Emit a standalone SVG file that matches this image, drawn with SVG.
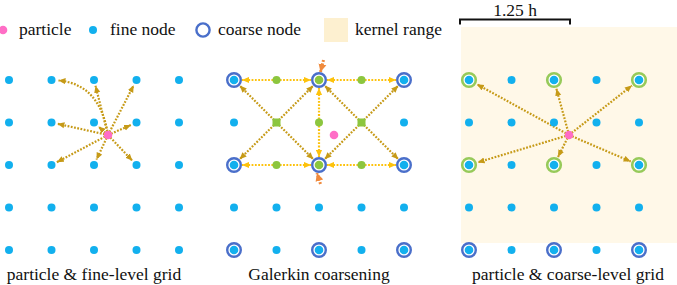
<svg xmlns="http://www.w3.org/2000/svg" width="677" height="285" viewBox="0 0 677 285">
<style>
text{font-family:"Liberation Serif","DejaVu Serif",serif;font-size:17.5px;fill:#111}
.f{fill:#12b0ee}
.g{fill:#8cc63f}
.p{fill:#ff6ec6}
.cr{fill:#fff;stroke:#4a6fca;stroke-width:2.4}
.gr{fill:#fff;stroke:#97ca5a;stroke-width:2.6}
.a{fill:none;stroke:#c69a17;stroke-width:2.2;stroke-dasharray:1.8 1.5;marker-end:url(#ag)}
.y{fill:none;stroke:#fdc20c;stroke-width:2.2;stroke-dasharray:1.8 1.5;marker-end:url(#ay)}
.o{fill:none;stroke:#f08a3c;stroke-width:3;stroke-dasharray:2 1.5;marker-end:url(#ao)}
</style>
<defs>
<marker id="ag" viewBox="0 0 8 8" refX="8" refY="4" markerWidth="7" markerHeight="7" markerUnits="userSpaceOnUse" orient="auto"><path d="M0,0.5L8,4L0,7.5z" fill="#c69a17"/></marker>
<marker id="ay" viewBox="0 0 8 8" refX="8" refY="4" markerWidth="7" markerHeight="7" markerUnits="userSpaceOnUse" orient="auto"><path d="M0,0.5L8,4L0,7.5z" fill="#fdc20c"/></marker>
<marker id="ao" viewBox="0 0 8 8" refX="8" refY="4" markerWidth="8" markerHeight="9" markerUnits="userSpaceOnUse" orient="auto"><path d="M0,0L8,4L0,8z" fill="#f08a3c"/></marker>
</defs>

<rect id="kernel-range" x="461" y="27" width="216" height="216" fill="#fff8e8"/>

<g id="legend" font-family="Liberation Serif, serif">
<circle class="p" cx="3" cy="30" r="4.3"/>
<text x="19" y="35">particle</text>
<circle class="f" cx="93" cy="30" r="4"/>
<text x="110" y="35">fine node</text>
<circle cx="203" cy="30" r="6.6" fill="#fff" stroke="#4a6fca" stroke-width="2.4"/>
<text x="218" y="35">coarse node</text>
<rect x="324" y="18" width="24" height="24" fill="#fdf0d0"/>
<text x="355" y="35">kernel range</text>
</g>

<g id="scale-bar" font-family="Liberation Serif, serif">
<path d="M460,24.5V19.5H570V24.5" fill="none" stroke="#111" stroke-width="2"/>
<text x="515" y="15.5" text-anchor="middle">1.25 h</text>
</g>

<g id="connectors">
<path class="a" d="M108,135Q100,84 58.5,80.5"/>
<path class="a" d="M108,135L95.5,85.8"/>
<path class="a" d="M108,135L133.7,85.3"/>
<path class="a" d="M108,135L57.4,123.8"/>
<path class="a" d="M108,135L98.4,126.5"/>
<path class="a" d="M108,135L131,125"/>
<path class="a" d="M108,135L56.8,162.2"/>
<path class="a" d="M108,135L96.5,159.6"/>
<path class="a" d="M108,135L132.4,160.7"/>

<path class="y" d="M276.5,80H242"/>
<path class="y" d="M276.5,80H311"/>
<path class="y" d="M361.5,80H327"/>
<path class="y" d="M361.5,80H396"/>
<path class="y" d="M276.5,165H242"/>
<path class="y" d="M276.5,165H311"/>
<path class="y" d="M361.5,165H327"/>
<path class="y" d="M361.5,165H396"/>
<path class="y" d="M319,122.5V88"/>
<path class="y" d="M319,122.5V157"/>
<path class="a" d="M276.5,122.5L239.7,85.6"/>
<path class="a" d="M276.5,122.5L313.3,85.6"/>
<path class="a" d="M276.5,122.5L239.6,159.3"/>
<path class="a" d="M276.5,122.5L313.4,159.3"/>
<path class="a" d="M361.5,122.5L324.7,85.6"/>
<path class="a" d="M361.5,122.5L398.3,85.6"/>
<path class="a" d="M361.5,122.5L324.6,159.3"/>
<path class="a" d="M361.5,122.5L398.4,159.3"/>
<path class="o" d="M323.5,60L320.5,72"/>
<path class="o" d="M320.5,184L317,173"/>

<path class="a" d="M569,135L476.9,84.3"/>
<path class="a" d="M569,135L556.4,88.7"/>
<path class="a" d="M569,135L631.9,85.6"/>
<path class="a" d="M569,135L477.6,162.4"/>
<path class="a" d="M569,135L558,157"/>
<path class="a" d="M569,135L630.7,161.5"/>
</g>

<!-- left panel: fine grid -->
<g id="L-r1c1"><circle class="f" cx="9" cy="80" r="4"/></g>
<g id="L-r1c2"><circle class="f" cx="51.5" cy="80" r="4"/></g>
<g id="L-r1c3"><circle class="f" cx="94" cy="80" r="4"/></g>
<g id="L-r1c4"><circle class="f" cx="136.5" cy="80" r="4"/></g>
<g id="L-r1c5"><circle class="f" cx="179" cy="80" r="4"/></g>
<g id="L-r2c1"><circle class="f" cx="9" cy="122.5" r="4"/></g>
<g id="L-r2c2"><circle class="f" cx="51.5" cy="122.5" r="4"/></g>
<g id="L-r2c3"><circle class="f" cx="94" cy="122.5" r="4"/></g>
<g id="L-r2c4"><circle class="f" cx="136.5" cy="122.5" r="4"/></g>
<g id="L-r2c5"><circle class="f" cx="179" cy="122.5" r="4"/></g>
<g id="L-r3c1"><circle class="f" cx="9" cy="165" r="4"/></g>
<g id="L-r3c2"><circle class="f" cx="51.5" cy="165" r="4"/></g>
<g id="L-r3c3"><circle class="f" cx="94" cy="165" r="4"/></g>
<g id="L-r3c4"><circle class="f" cx="136.5" cy="165" r="4"/></g>
<g id="L-r3c5"><circle class="f" cx="179" cy="165" r="4"/></g>
<g id="L-r4c1"><circle class="f" cx="9" cy="207.5" r="4"/></g>
<g id="L-r4c2"><circle class="f" cx="51.5" cy="207.5" r="4"/></g>
<g id="L-r4c3"><circle class="f" cx="94" cy="207.5" r="4"/></g>
<g id="L-r4c4"><circle class="f" cx="136.5" cy="207.5" r="4"/></g>
<g id="L-r4c5"><circle class="f" cx="179" cy="207.5" r="4"/></g>
<g id="L-r5c1"><circle class="f" cx="9" cy="250" r="4"/></g>
<g id="L-r5c2"><circle class="f" cx="51.5" cy="250" r="4"/></g>
<g id="L-r5c3"><circle class="f" cx="94" cy="250" r="4"/></g>
<g id="L-r5c4"><circle class="f" cx="136.5" cy="250" r="4"/></g>
<g id="L-r5c5"><circle class="f" cx="179" cy="250" r="4"/></g>
<g id="L-particle"><circle class="p" cx="108" cy="135" r="4.3"/></g>

<!-- middle panel: Galerkin coarsening -->
<g id="M-r1c1"><circle class="cr" cx="234" cy="80" r="6.8"/><circle class="f" cx="234" cy="80" r="4.3"/></g>
<g id="M-r1c2"><circle class="g" cx="276.5" cy="80" r="4"/></g>
<g id="M-r1c3"><circle class="cr" cx="319" cy="80" r="6.8"/><circle class="g" cx="319" cy="80" r="4.3"/></g>
<g id="M-r1c4"><circle class="g" cx="361.5" cy="80" r="4"/></g>
<g id="M-r1c5"><circle class="cr" cx="404" cy="80" r="6.8"/><circle class="f" cx="404" cy="80" r="4.3"/></g>
<g id="M-r2c1"><circle class="f" cx="234" cy="122.5" r="4"/></g>
<g id="M-r2c2"><rect class="g" x="272.5" y="118.5" width="8" height="8"/></g>
<g id="M-r2c3"><circle class="g" cx="319" cy="122.5" r="4"/></g>
<g id="M-r2c4"><rect class="g" x="357.5" y="118.5" width="8" height="8"/></g>
<g id="M-r2c5"><circle class="f" cx="404" cy="122.5" r="4"/></g>
<g id="M-r3c1"><circle class="cr" cx="234" cy="165" r="6.8"/><circle class="f" cx="234" cy="165" r="4.3"/></g>
<g id="M-r3c2"><circle class="g" cx="276.5" cy="165" r="4"/></g>
<g id="M-r3c3"><circle class="cr" cx="319" cy="165" r="6.8"/><circle class="g" cx="319" cy="165" r="4.3"/></g>
<g id="M-r3c4"><circle class="g" cx="361.5" cy="165" r="4"/></g>
<g id="M-r3c5"><circle class="cr" cx="404" cy="165" r="6.8"/><circle class="f" cx="404" cy="165" r="4.3"/></g>
<g id="M-r4c1"><circle class="f" cx="234" cy="207.5" r="4"/></g>
<g id="M-r4c2"><circle class="f" cx="276.5" cy="207.5" r="4"/></g>
<g id="M-r4c3"><circle class="f" cx="319" cy="207.5" r="4"/></g>
<g id="M-r4c4"><circle class="f" cx="361.5" cy="207.5" r="4"/></g>
<g id="M-r4c5"><circle class="f" cx="404" cy="207.5" r="4"/></g>
<g id="M-r5c1"><circle class="cr" cx="234" cy="250" r="6.8"/><circle class="f" cx="234" cy="250" r="4.3"/></g>
<g id="M-r5c2"><circle class="f" cx="276.5" cy="250" r="4"/></g>
<g id="M-r5c3"><circle class="cr" cx="319" cy="250" r="6.8"/><circle class="f" cx="319" cy="250" r="4.3"/></g>
<g id="M-r5c4"><circle class="f" cx="361.5" cy="250" r="4"/></g>
<g id="M-r5c5"><circle class="cr" cx="404" cy="250" r="6.8"/><circle class="f" cx="404" cy="250" r="4.3"/></g>
<g id="M-particle"><circle class="p" cx="334" cy="135" r="4.3"/></g>

<!-- right panel: coarse grid -->
<g id="R-r1c1"><circle class="gr" cx="469" cy="80" r="6.8"/><circle class="f" cx="469" cy="80" r="4.3"/></g>
<g id="R-r1c2"><circle class="f" cx="511.5" cy="80" r="4"/></g>
<g id="R-r1c3"><circle class="gr" cx="554" cy="80" r="6.8"/><circle class="f" cx="554" cy="80" r="4.3"/></g>
<g id="R-r1c4"><circle class="f" cx="596.5" cy="80" r="4"/></g>
<g id="R-r1c5"><circle class="gr" cx="639" cy="80" r="6.8"/><circle class="f" cx="639" cy="80" r="4.3"/></g>
<g id="R-r2c1"><circle class="f" cx="469" cy="122.5" r="4"/></g>
<g id="R-r2c2"><circle class="f" cx="511.5" cy="122.5" r="4"/></g>
<g id="R-r2c3"><circle class="f" cx="554" cy="122.5" r="4"/></g>
<g id="R-r2c4"><circle class="f" cx="596.5" cy="122.5" r="4"/></g>
<g id="R-r2c5"><circle class="f" cx="639" cy="122.5" r="4"/></g>
<g id="R-r3c1"><circle class="gr" cx="469" cy="165" r="6.8"/><circle class="f" cx="469" cy="165" r="4.3"/></g>
<g id="R-r3c2"><circle class="f" cx="511.5" cy="165" r="4"/></g>
<g id="R-r3c3"><circle class="gr" cx="554" cy="165" r="6.8"/><circle class="f" cx="554" cy="165" r="4.3"/></g>
<g id="R-r3c4"><circle class="f" cx="596.5" cy="165" r="4"/></g>
<g id="R-r3c5"><circle class="gr" cx="639" cy="165" r="6.8"/><circle class="f" cx="639" cy="165" r="4.3"/></g>
<g id="R-r4c1"><circle class="f" cx="469" cy="207.5" r="4"/></g>
<g id="R-r4c2"><circle class="f" cx="511.5" cy="207.5" r="4"/></g>
<g id="R-r4c3"><circle class="f" cx="554" cy="207.5" r="4"/></g>
<g id="R-r4c4"><circle class="f" cx="596.5" cy="207.5" r="4"/></g>
<g id="R-r4c5"><circle class="f" cx="639" cy="207.5" r="4"/></g>
<g id="R-r5c1"><circle class="cr" cx="469" cy="250" r="6.8"/><circle class="f" cx="469" cy="250" r="4.3"/></g>
<g id="R-r5c2"><circle class="f" cx="511.5" cy="250" r="4"/></g>
<g id="R-r5c3"><circle class="cr" cx="554" cy="250" r="6.8"/><circle class="f" cx="554" cy="250" r="4.3"/></g>
<g id="R-r5c4"><circle class="f" cx="596.5" cy="250" r="4"/></g>
<g id="R-r5c5"><circle class="cr" cx="639" cy="250" r="6.8"/><circle class="f" cx="639" cy="250" r="4.3"/></g>
<g id="R-particle"><circle class="p" cx="569" cy="135" r="4.3"/></g>

<g id="captions" font-family="Liberation Serif, serif">
<text x="94" y="280" text-anchor="middle">particle &amp; fine-level grid</text>
<text x="319" y="280" text-anchor="middle">Galerkin coarsening</text>
<text x="568" y="280" text-anchor="middle">particle &amp; coarse-level grid</text>
</g>
</svg>
